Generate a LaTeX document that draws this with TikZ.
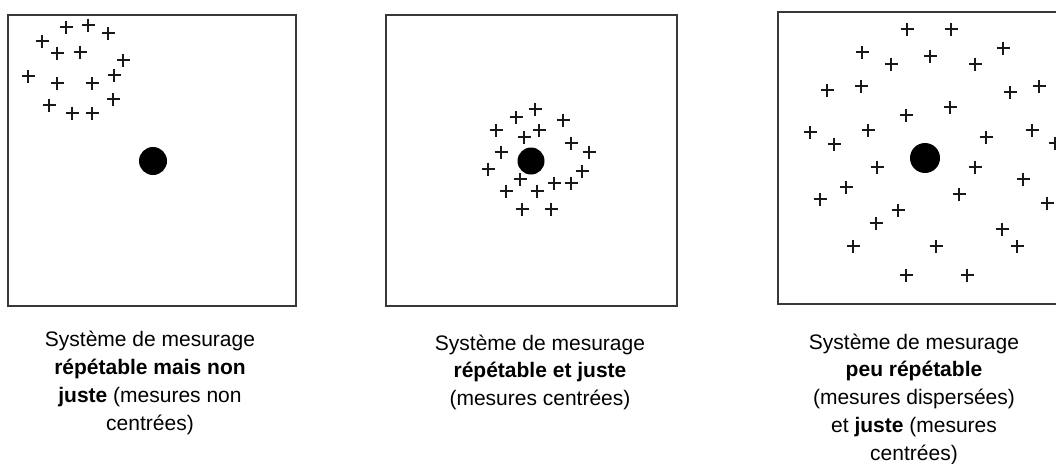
\documentclass[tikz,border=0pt]{standalone}
\usepackage{fontspec}
\setmainfont{Liberation Sans}
\begin{document}
\begin{tikzpicture}[x=1pt,y=-1pt,
  frame/.style={draw=black!78,line width=1.8pt},
  target/.style={circle,fill=black,inner sep=0pt},
  caption/.style={align=center,anchor=base,inner sep=0pt,
    font=\fontsize{21}{27.7}\selectfont},
  plusmark/.style={line width=2.6pt,line cap=butt,black!90}]
\useasboundingbox (0,0) rectangle (1056,463);
\clip (0,0) rectangle (1056,463);
% frames
\node[frame,minimum width=288pt,minimum height=291pt,inner sep=0pt] (f1) at (152,160.5) {};
\node[frame,minimum width=291pt,minimum height=291pt,inner sep=0pt] (f2) at (531.5,160.5) {};
\node[frame,minimum width=292pt,minimum height=292pt,inner sep=0pt] (f3) at (924,158) {};
% targets
\node[target,minimum size=28pt] (t1) at (153,161) {};
\node[target,minimum size=27pt] (t2) at (531,161) {};
\node[target,minimum size=30pt] (t3) at (925,158) {};
% measurements
\foreach \x/\y in {66/27,88/25,108/33,42/41,57/53,80/52,123/60,28/76,114/75,57/83,92/83,49/105,113/99,72/113,92/113,
  535/109,516/117,563/120,496/130,539/130,524/137,571/143,501/152,589/152,488/169,582/171,520/179,554/183,571/183,506/191,537/191,522/209,551/209,
  907/29,951/29,862/52,930/56,1003/48,891/64,975/64,827/90,861/86,1010/92,1039/86,950/107,906/115,810/132,834/144,868/130,986/137,1032/130,1055/143,877/167,975/167,1023/179,820/199,846/187,959/194,1047/203,898/210,876/223,853/246,936/246,1002/229,1017/246,906/275,967/275}
  \draw[plusmark] (\x-6.5,\y) -- (\x+6.5,\y) (\x,\y-6.5) -- (\x,\y+6.5);
% captions (anchor base = baseline of the last line)
\node[caption] (c1) at (150,430) {Système de mesurage\\\textbf{répétable mais non}\\\textbf{juste} (mesures non\\centrées)};
\node[caption] (c2) at (540,405.4) {Système de mesurage\\\textbf{répétable et juste}\\(mesures centrées)};
\node[caption] (c3) at (914,460) {Système de mesurage\\\textbf{peu répétable}\\(mesures dispersées)\\et \textbf{juste} (mesures\\centrées)};
\end{tikzpicture}
\end{document}
